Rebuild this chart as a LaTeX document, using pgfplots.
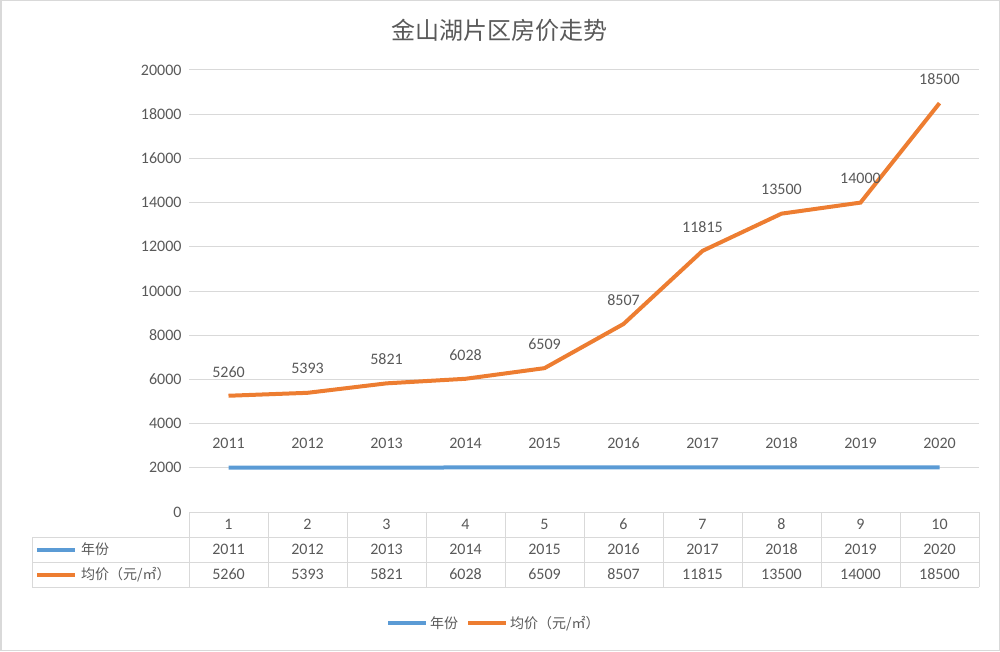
\documentclass[border=0pt]{standalone}
\usepackage{fontspec}
\setmainfont{Carlito}
\newfontfamily\cjk{Noto Sans CJK SC}
\usepackage{pgfplots}
\pgfplotsset{compat=1.18}
\definecolor{xblue}{HTML}{5B9BD5}
\definecolor{xorange}{HTML}{ED7D31}
\definecolor{txt}{HTML}{595959}
\definecolor{gridc}{HTML}{D9D9D9}
\begin{document}
\begin{tikzpicture}[x=1pt,y=1pt]
\useasboundingbox (0,0) rectangle (1000,651);
\draw[gridc, line width=1.5pt] (0.75,0.75) rectangle (999.25,650.25);
\node[text=txt, font=\cjk\fontsize{24}{28}\selectfont] at (499,621) {金山湖片区房价走势};
\begin{axis}[at={(189pt,139pt)}, anchor=south west, scale only axis,
  width=790pt, height=442pt, xmin=0.5, xmax=10.5, ymin=0, ymax=20000,
  ytick={0,2000,...,20000}, xtick=\empty, ymajorgrids, scaled y ticks=false,
  grid style={gridc, line width=1pt},
  axis line style={draw=none}, major tick length=0pt,
  yticklabel style={text=txt, font=\fontsize{16}{18}\selectfont, xshift=-4pt},
  /pgf/number format/assume math mode=true,
  /pgf/number format/1000 sep={},
  clip=false,
  every node near coord/.append style={text=txt, font=\fontsize{16}{18}\selectfont, anchor=center, yshift=24pt},
  legend style={draw=none, legend columns=2, at={(axis description cs:0.386,-0.251)}, anchor=center,
    font=\cjk\fontsize{14}{16}\selectfont, text=txt,
    /tikz/every even column/.append style={column sep=6pt}},
  legend image code/.code={\draw[#1] (0pt,0pt) -- (38pt,0pt);},
]
\addplot[xblue, line width=4pt, nodes near coords] coordinates {
(1,2011) (2,2012) (3,2013) (4,2014) (5,2015) (6,2016) (7,2017) (8,2018) (9,2019) (10,2020)};
\addlegendentry{年份}
\addplot[xorange, line width=4pt, nodes near coords] coordinates {
(1,5260) (2,5393) (3,5821) (4,6028) (5,6509) (6,8507) (7,11815) (8,13500) (9,14000) (10,18500)};
\addlegendentry{均价（元/㎡）}
\end{axis}
% data table
\foreach \i in {0,...,10} \draw[gridc, line width=1pt] (189+79*\i,64) -- (189+79*\i,139);
\draw[gridc, line width=1pt] (189,139) -- (979,139);
\draw[gridc, line width=1pt] (32,114) -- (979,114);
\draw[gridc, line width=1pt] (32,89) -- (979,89);
\draw[gridc, line width=1pt] (32,64) -- (979,64);
\draw[gridc, line width=1pt] (32,64) -- (32,114);
\begin{scope}[every node/.style={text=txt, font=\fontsize{16}{18}\selectfont}]
\foreach \v [count=\i] in {1,2,3,4,5,6,7,8,9,10} \node at (189+79*\i-39.5,126.5) {\v};
\foreach \v [count=\i] in {2011,2012,2013,2014,2015,2016,2017,2018,2019,2020} \node at (189+79*\i-39.5,101.5) {\v};
\foreach \v [count=\i] in {5260,5393,5821,6028,6509,8507,11815,13500,14000,18500} \node at (189+79*\i-39.5,76.5) {\v};
\end{scope}
\draw[xblue, line width=4pt] (37,101.5) -- (75,101.5);
\draw[xorange, line width=4pt] (37,76.5) -- (75,76.5);
\node[anchor=west, text=txt, font=\cjk\fontsize{14}{16}\selectfont, inner sep=0pt] at (81,101.5) {年份};
\node[anchor=west, text=txt, font=\cjk\fontsize{14}{16}\selectfont, inner sep=0pt] at (81,76.5) {均价（元/㎡）};
\end{tikzpicture}
\end{document}
